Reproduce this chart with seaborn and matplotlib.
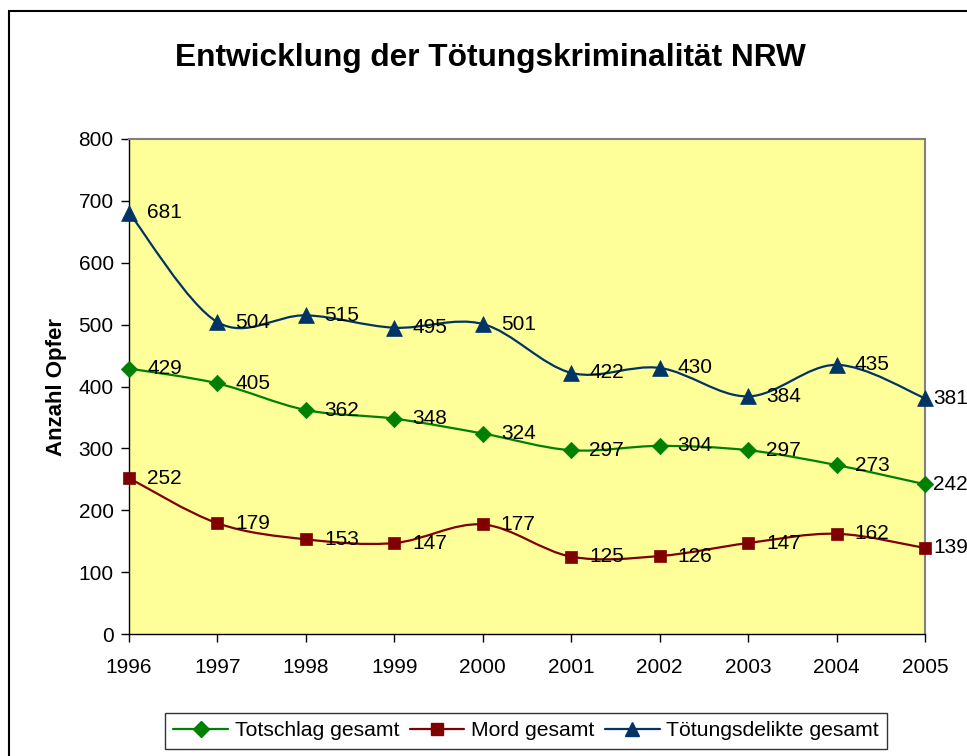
import matplotlib
matplotlib.use("Agg")
import matplotlib.pyplot as plt
import matplotlib.patches as mpatches
from matplotlib.path import Path
from matplotlib.lines import Line2D
import numpy as np
import pandas as pd
import seaborn as sns

years = ["1996", "1997", "1998", "1999", "2000", "2001", "2002", "2003", "2004", "2005"]
totschlag = [429, 405, 362, 348, 324, 297, 304, 297, 273, 242]
mord = [252, 179, 153, 147, 177, 125, 126, 147, 162, 139]
toetung = [681, 504, 515, 495, 501, 422, 430, 384, 435, 381]
series_names = ["Totschlag gesamt", "Mord gesamt", "Tötungsdelikte gesamt"]

sns.set_style("white")
plt.rcParams["font.family"] = ["Liberation Sans", "DejaVu Sans"]
plt.rcParams.update({"text.color": "black", "axes.labelcolor": "black",
                     "xtick.color": "black", "ytick.color": "black"})

GREEN = "#008000"
RED = "#800000"
NAVY = "#003366"
FS = 15

df = pd.DataFrame({
    "pos": list(range(len(years))) * 3,
    "value": totschlag + mord + toetung,
    "series": sum([[n] * len(years) for n in series_names], []),
})


def smooth_path(xs, ys):
    # Excel-like smoothed line: Catmull-Rom as cubic Bezier segments
    pts = np.column_stack([xs, ys]).astype(float)
    verts = [pts[0]]
    codes = [Path.MOVETO]
    n = len(pts)
    for i in range(n - 1):
        p0 = pts[i - 1] if i > 0 else pts[i]
        p1, p2 = pts[i], pts[i + 1]
        p3 = pts[i + 2] if i + 2 < n else pts[i + 1]
        c1 = p1 + (p2 - p0) / 6.0
        c2 = p2 - (p3 - p1) / 6.0
        verts += [c1, c2, p2]
        codes += [Path.CURVE4] * 3
    return Path(verts, codes)


fig = plt.figure(figsize=(9.67, 7.56), dpi=100)
ax = fig.add_axes([129 / 967, 1 - 634 / 756, 796 / 967, 495 / 756])
ax.set_facecolor("#FFFF99")

styles = {
    "Totschlag gesamt": dict(color=GREEN, marker="D", s=70),
    "Mord gesamt": dict(color=RED, marker="s", s=80),
    "Tötungsdelikte gesamt": dict(color=NAVY, marker="^", s=130),
}

for name in series_names:
    sub = df[df["series"] == name]
    st = styles[name]
    ax.add_patch(mpatches.PathPatch(smooth_path(sub["pos"], sub["value"]),
                                    fill=False, edgecolor=st["color"], lw=1.6,
                                    zorder=2, clip_on=False))
    sns.scatterplot(data=sub, x="pos", y="value", marker=st["marker"], s=st["s"],
                    color=st["color"], edgecolor=st["color"], linewidth=0.5,
                    ax=ax, zorder=3, clip_on=False, legend=False)
    for p, v in zip(sub["pos"], sub["value"]):
        off = 6 if p == len(years) - 1 else 13
        ax.annotate(str(v), (p, v), xytext=(off, 0), textcoords="offset points",
                    ha="left", va="center", fontsize=FS, color="black",
                    zorder=4, annotation_clip=False)

ax.set_xlim(0, len(years) - 1)
ax.set_ylim(0, 800)
ax.set_xticks(range(len(years)))
ax.set_xticklabels(years)
ax.set_yticks(range(0, 801, 100))
ax.set_xlabel("")
ax.set_ylabel("Anzahl Opfer", fontsize=16, fontweight="bold", labelpad=8)
ax.tick_params(axis="both", labelsize=FS, direction="out", length=6, width=1,
               color="black", bottom=True, left=True)
ax.tick_params(axis="x", pad=11)
ax.tick_params(axis="y", pad=5)
for side in ["left", "bottom"]:
    ax.spines[side].set_color("black")
    ax.spines[side].set_linewidth(1)
for side in ["top", "right"]:
    ax.spines[side].set_color("#808080")
    ax.spines[side].set_linewidth(1.5)

fig.text(490 / 967, 1 - 58 / 756, "Entwicklung der Tötungskriminalität NRW",
         ha="center", va="center", fontsize=22.8, fontweight="bold", color="black")

# outer chart frame (cut off at right and bottom in the original)
fig.patches.append(mpatches.Rectangle((9 / 967, -0.2), 1.3, 1.2 - 11 / 756,
                                      transform=fig.transFigure, fill=False,
                                      edgecolor="black", lw=1.5))

handles = [Line2D([0], [0], color=styles[n]["color"], lw=1.6,
                  marker=styles[n]["marker"],
                  markersize={"D": 8, "s": 8.5, "^": 10}[styles[n]["marker"]])
           for n in series_names]
leg = fig.legend(handles, series_names, loc="center", ncol=3,
                 bbox_to_anchor=(526 / 967, 1 - 731 / 756), fontsize=15.2,
                 frameon=True, fancybox=False, edgecolor="black",
                 handlelength=2.6, handletextpad=0.3, columnspacing=0.5,
                 borderpad=0.4, borderaxespad=0)
leg.get_frame().set_linewidth(1)

fig.savefig("out.png", dpi=100)
